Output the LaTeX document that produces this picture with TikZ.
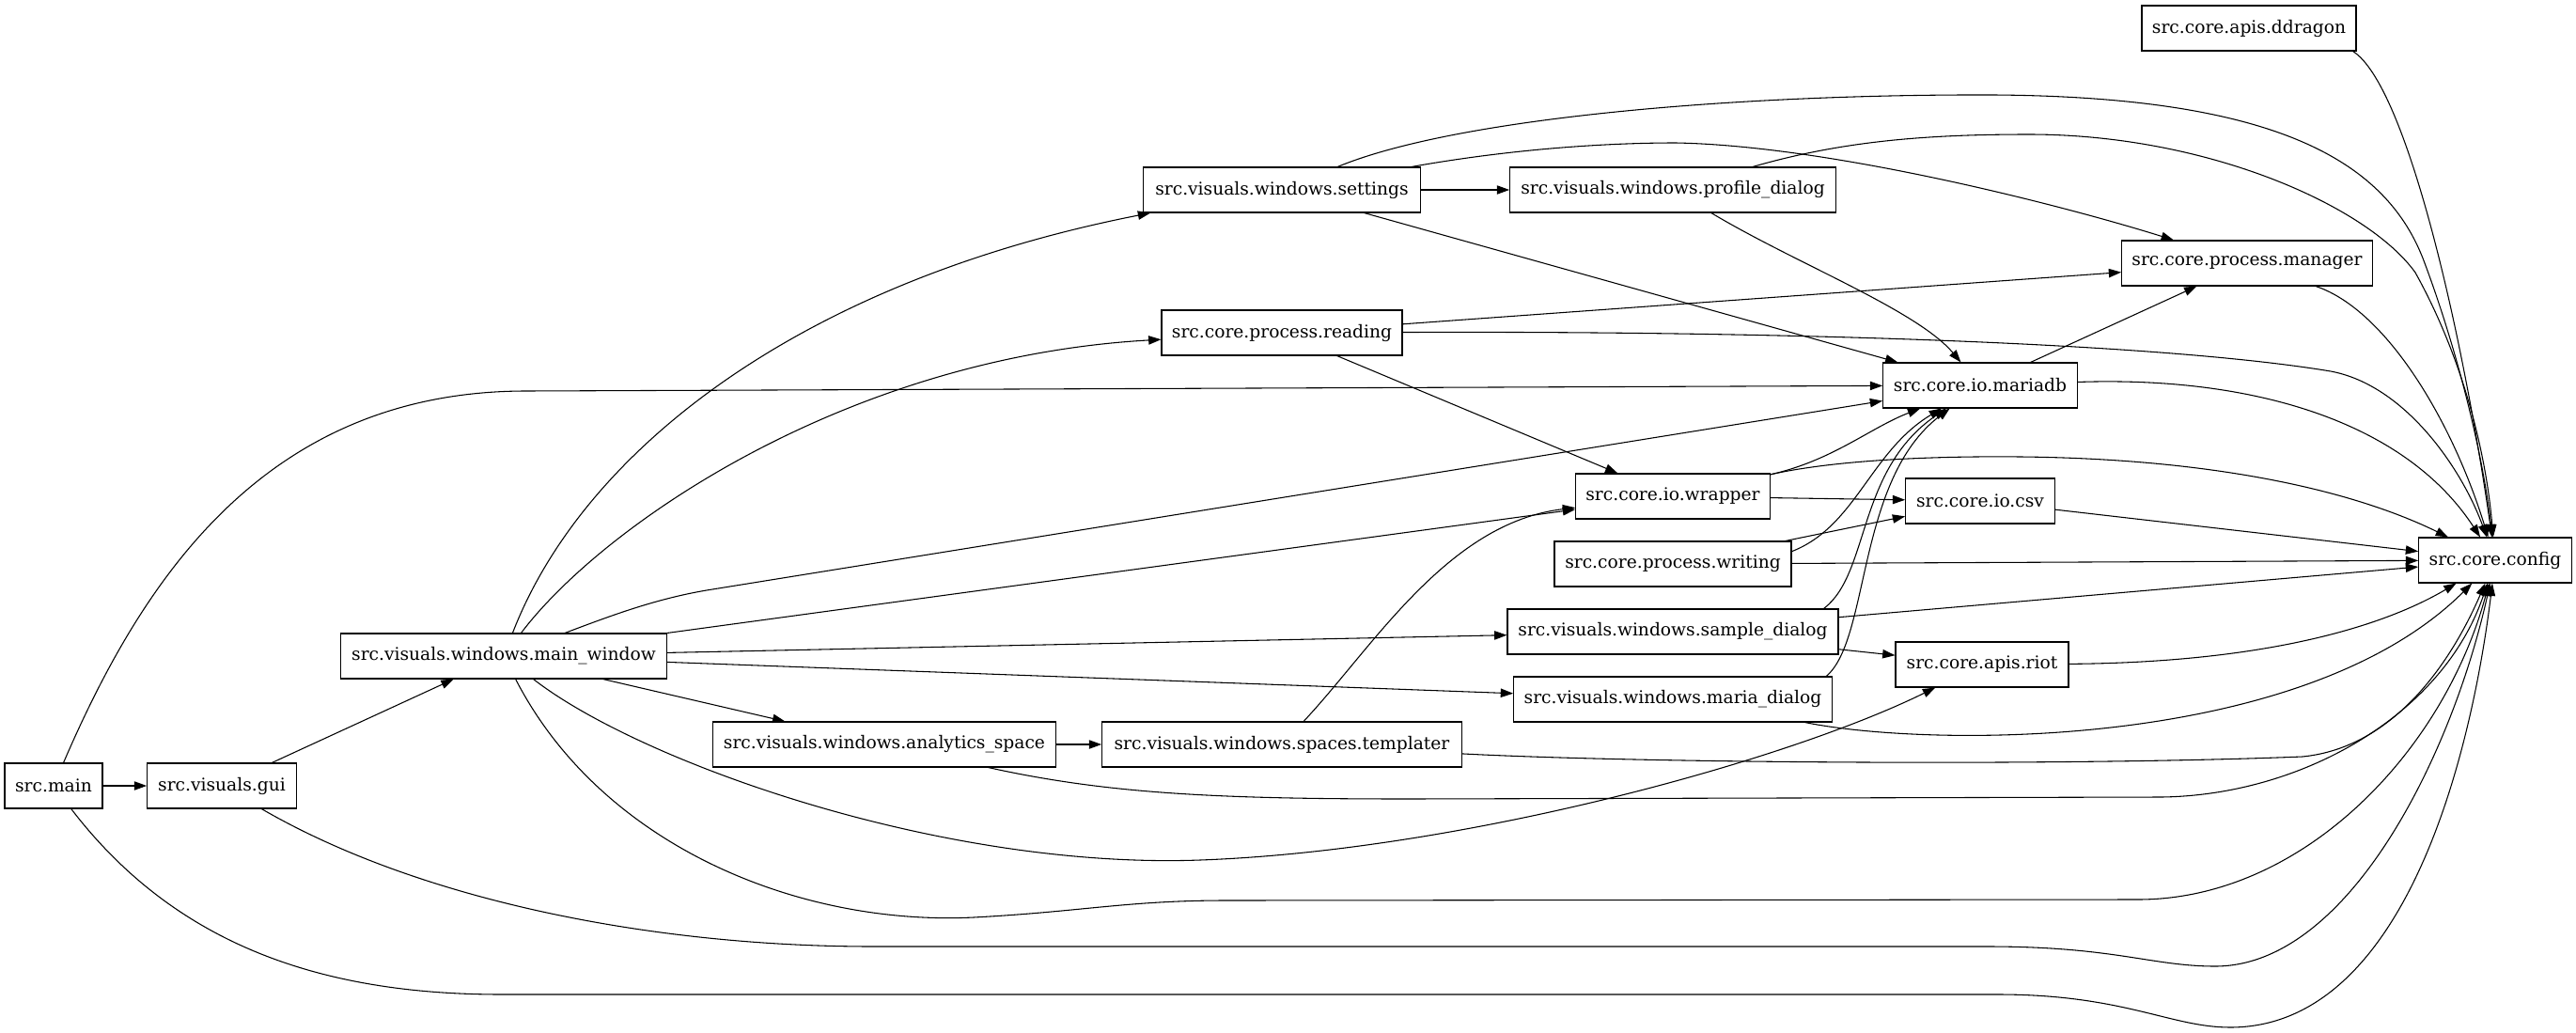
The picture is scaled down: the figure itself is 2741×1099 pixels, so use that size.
\documentclass[tikz,border=0pt]{standalone}
\usepackage{fontspec}
\setmainfont{DejaVu Serif}
\usetikzlibrary{arrows.meta}
\begin{document}
\begin{tikzpicture}[x=0.75pt,y=-0.75pt,>={Triangle[length=10pt,width=7pt]},
  module/.style={draw,line width=0.8pt,minimum height=36pt,inner xsep=2pt,font=\fontsize{14}{16}\selectfont},
  dep/.style={->,line width=0.8pt}]
\useasboundingbox (0,0) rectangle (2741,1099);
\node[module, minimum width=78pt] (main) at (57,836) {src.main};
\node[module, minimum width=119pt] (gui) at (236,836) {src.visuals.gui};
\node[module, minimum width=260pt] (mw) at (536,698) {src.visuals.windows.main\_window};
\node[module, minimum width=274pt] (analytics) at (941,792) {src.visuals.windows.analytics\_space};
\node[module, minimum width=287pt] (templater) at (1364,792) {src.visuals.windows.spaces.templater};
\node[module, minimum width=221pt] (settings) at (1364,202) {src.visuals.windows.settings};
\node[module, minimum width=260pt] (profile) at (1780,202) {src.visuals.windows.profile\_dialog};
\node[module, minimum width=192pt] (reading) at (1364,354) {src.core.process.reading};
\node[module, minimum width=155pt] (mariadb) at (2107,410) {src.core.io.mariadb};
\node[module, minimum width=155pt] (wrapper) at (1780,528) {src.core.io.wrapper};
\node[module, minimum width=119pt] (csv) at (2107,533) {src.core.io.csv};
\node[module, minimum width=189pt] (writing) at (1780,600) {src.core.process.writing};
\node[module, minimum width=264pt] (sample) at (1780,672) {src.visuals.windows.sample\_dialog};
\node[module, minimum width=254pt] (maria) at (1780,744) {src.visuals.windows.maria\_dialog};
\node[module, minimum width=138pt] (riot) at (2109,707) {src.core.apis.riot};
\node[module, minimum width=200pt] (manager) at (2391,280) {src.core.process.manager};
\node[module, minimum width=171pt] (ddragon) at (2393,30) {src.core.apis.ddragon};
\node[module, minimum width=122pt] (config) at (2655,596) {src.core.config};
\draw[dep] (main) -- (gui);
\draw[dep] (main) .. controls (150,620) and (280,416) .. (560,416) -- (mariadb);
\draw[dep] (main) .. controls (190,1010) and (350,1058) .. (534,1058) -- (2126,1058) .. controls (2260,1058) and (2310,1093) .. (2373,1093) .. controls (2560,1093) and (2630,800) .. (config);
\draw[dep] (gui) -- (mw);
\draw[dep] (gui) .. controls (450,960) and (700,1007) .. (929,1007) -- (2115,1007) .. controls (2250,1007) and (2290,1028) .. (2357,1028) .. controls (2500,1028) and (2610,800) .. (config);
\draw[dep] (mw) .. controls (620,480) and (850,300) .. ([xshift=6pt]settings.south west);
\draw[dep] (mw) .. controls (640,560) and (900,380) .. (reading);
\draw[dep] (mw) .. controls (650,655) and (700,636) .. (758,627) -- (mariadb);
\draw[dep] (mw.north east) -- (wrapper);
\draw[dep] (mw) -- (sample);
\draw[dep] (mw) -- (maria);
\draw[dep] (mw) -- (analytics);
\draw[dep] (mw) .. controls (680,810) and (1000,925) .. (1277,915) .. controls (1554,905) and (1900,810) .. (riot);
\draw[dep] (mw) .. controls (640,900) and (850,985) .. (1036,976) .. controls (1150,970) and (1200,958) .. (1304,958) -- (2275,957) .. controls (2450,957) and (2600,800) .. (config);
\draw[dep] (analytics) -- (templater);
\draw[dep] (analytics) .. controls (1180,845) and (1300,850) .. (1500,850) -- (2300,848) .. controls (2450,846) and (2600,760) .. (config);
\draw[dep] (templater) .. controls (1460,690) and (1540,556) .. (wrapper);
\draw[dep] (templater) .. controls (1750,812) and (2200,815) .. (2450,805) .. controls (2550,795) and (2610,700) .. (config);
\draw[dep] (settings) -- (profile);
\draw[dep] (settings) .. controls (1550,125) and (1850,100) .. (2121,101) .. controls (2420,103) and (2540,170) .. (2580,280) .. controls (2610,360) and (2640,470) .. (config);
\draw[dep] (settings) .. controls (1600,160) and (1700,152) .. (1783,152) .. controls (1950,155) and (2200,220) .. (manager);
\draw[dep] (settings) -- (mariadb);
\draw[dep] (profile) .. controls (1960,150) and (2050,143) .. (2159,143) .. controls (2350,143) and (2520,220) .. (2570,290) .. controls (2620,380) and (2645,480) .. (config);
\draw[dep] (profile) .. controls (1910,280) and (2040,330) .. (mariadb);
\draw[dep] (reading) -- (manager);
\draw[dep] (reading) .. controls (1900,352) and (2300,365) .. (2480,395) .. controls (2560,410) and (2620,500) .. (config);
\draw[dep] (reading) -- (wrapper);
\draw[dep] (mariadb) -- (manager);
\draw[dep] (mariadb) .. controls (2400,400) and (2560,450) .. (config);
\draw[dep] (wrapper) .. controls (1950,490) and (1990,455) .. (mariadb);
\draw[dep] (wrapper) -- (csv);
\draw[dep] (wrapper) .. controls (1950,490) and (2050,485) .. (2150,486) .. controls (2350,488) and (2500,520) .. (config);
\draw[dep] (csv) -- (config);
\draw[dep] (writing) -- (csv);
\draw[dep] ([yshift=10pt]writing.east) .. controls (1975,560) and (1990,480) .. (mariadb);
\draw[dep] (writing) -- (config);
\draw[dep] ([xshift=-12pt]sample.north east) .. controls (1990,610) and (1975,500) .. (mariadb);
\draw[dep] (sample) -- (riot);
\draw[dep] (sample) -- (config);
\draw[dep] ([xshift=-5pt]maria.north east) .. controls (1990,680) and (1975,510) .. (mariadb);
\draw[dep] ([xshift=-22pt]maria.south east) .. controls (2050,795) and (2450,800) .. (config);
\draw[dep] (riot) .. controls (2400,705) and (2530,670) .. (config);
\draw[dep] (manager) .. controls (2540,330) and (2610,450) .. (config);
\draw[dep] ([xshift=-3pt]ddragon.south east) .. controls (2560,90) and (2620,350) .. (config);
\end{tikzpicture}
\end{document}
